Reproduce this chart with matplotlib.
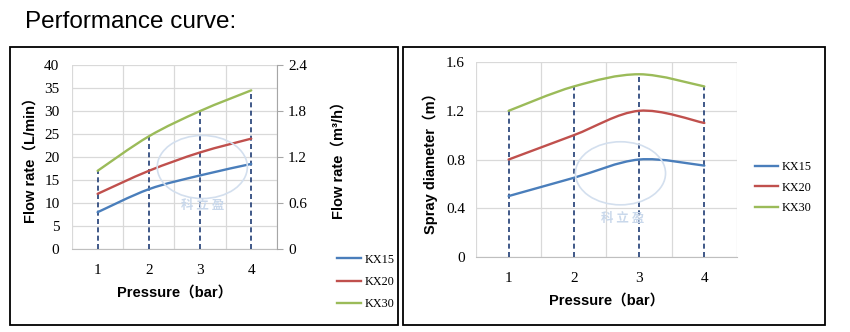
import numpy as np
import matplotlib
matplotlib.use('Agg')
import matplotlib.pyplot as plt
from matplotlib.path import Path
from matplotlib.patches import PathPatch, Rectangle, Ellipse

# data
pressure = [1, 2, 3, 4]
series = ['KX15', 'KX20', 'KX30']
flow_lmin = {
    'KX15': [8, 13, 16, 18.5],
    'KX20': [12, 17, 21, 24],
    'KX30': [17, 24.5, 30, 34.5],
}
spray_m = {
    'KX15': [0.5, 0.65, 0.8, 0.75],
    'KX20': [0.8, 1.0, 1.2, 1.1],
    'KX30': [1.2, 1.4, 1.5, 1.4],
}
flow_ticks = [0, 5, 10, 15, 20, 25, 30, 35, 40]
flow_m3h_ticks = [0, 0.6, 1.2, 1.8, 2.4]
spray_ticks = [0, 0.4, 0.8, 1.2, 1.6]

colors = {'KX15': '#4a7ebb', 'KX20': '#c0504d', 'KX30': '#9bbb59'}
dash_color = '#1f3c74'
grid_color = '#d9d9d9'
serif = 'Liberation Serif'
sans = ['Liberation Sans', 'Noto Sans CJK SC']
tick_fs = 11


def smooth_line(ax, x, y, color):
    # Excel style smoothed line: Catmull-Rom segments drawn as cubic Beziers
    pts = np.column_stack([x, y]).astype(float)
    ext = np.vstack([pts[0], pts, pts[-1]])
    verts = [pts[0]]
    codes = [Path.MOVETO]
    for i in range(len(pts) - 1):
        p0, p1, p2, p3 = ext[i], ext[i + 1], ext[i + 2], ext[i + 3]
        verts += [p1 + (p2 - p0) / 6, p2 - (p3 - p1) / 6, p2]
        codes += [Path.CURVE4] * 3
    ax.add_patch(PathPatch(Path(verts, codes), fill=False, edgecolor=color,
                           lw=1.7, capstyle='round', zorder=4))
    # empty line used as legend handle
    return ax.plot([], [], color=color, lw=1.7)[0]


def style_axes(ax, ymax, yticks):
    ax.set_xlim(0.5, 4.5)
    ax.set_ylim(0, ymax)
    ax.set_xticks(pressure)
    ax.set_xticks([0.5, 1.5, 2.5, 3.5, 4.5], minor=True)
    ax.set_yticks(yticks)
    ax.grid(True, which='minor', axis='x', color=grid_color, lw=0.9)
    ax.grid(True, which='major', axis='y', color=grid_color, lw=0.9)
    ax.tick_params(which='both', length=0)
    ax.tick_params(axis='x', pad=11)
    for s in ['top', 'right', 'left']:
        ax.spines[s].set_visible(False)
    ax.spines['bottom'].set_color('#bfbfbf')
    ax.set_axisbelow(True)


def legend_kw(spacing):
    return dict(frameon=False, prop={'family': serif, 'size': 8.8}, handlelength=1.9,
                handletextpad=0.3, labelspacing=spacing, borderaxespad=0, borderpad=0)


fig = plt.figure(figsize=(8.5, 3.32), dpi=100)

fig.text(0.029, 0.935, 'Performance curve:', fontsize=17.5,
         family='Liberation Sans', va='center', ha='left')

# panel frames
fig.patches.append(Rectangle((0.0118, 0.021), 0.4565, 0.837, transform=fig.transFigure,
                             fill=False, edgecolor='black', lw=1.3))
fig.patches.append(Rectangle((0.4745, 0.021), 0.496, 0.837, transform=fig.transFigure,
                             fill=False, edgecolor='black', lw=1.3))

# watermarks
for cx, cy, tx, ty, w, h in [(0.238, 0.497, 0.238, 0.382, 0.106, 0.19),
                             (0.73, 0.478, 0.732, 0.343, 0.106, 0.19)]:
    fig.patches.append(Ellipse((cx, cy), w, h, transform=fig.transFigure,
                               fill=False, edgecolor='#d3dfee', lw=1.2, zorder=0))
    fig.text(tx, ty, '科 立 盈', color='#c9d8eb', fontsize=9, fontweight='bold',
             family='Noto Sans CJK SC', ha='center', va='center')

# ---- left chart: flow rate
ax1 = fig.add_axes([0.0847, 0.25, 0.241, 0.554])
ax1.patch.set_alpha(0)
style_axes(ax1, 40, flow_ticks)
ax1.set_xticklabels([str(p) for p in pressure], fontfamily=serif, fontsize=tick_fs)
ax1.set_yticklabels([str(t) for t in flow_ticks], fontfamily=serif, fontsize=tick_fs)
ax1.tick_params(axis='y', pad=9)
ax1.vlines(pressure, 0, flow_lmin['KX30'], colors=dash_color, linestyles=(0, (3, 2)),
           lw=1.2, zorder=3)
handles = [smooth_line(ax1, pressure, flow_lmin[s], colors[s]) for s in series]
ax1.set_xlabel('Pressure（bar）', fontsize=10.5, fontweight='bold', family=sans, labelpad=6)
ax1.set_ylabel('Flow rate（L/min）', fontsize=10.5, fontweight='bold', family=sans, labelpad=5)

ax1r = ax1.twinx()
ax1r.set_ylim(0, 2.4)
ax1r.set_yticks(flow_m3h_ticks)
ax1r.set_yticklabels(['0' if t == 0 else '%.1f' % t for t in flow_m3h_ticks],
                     fontfamily=serif, fontsize=tick_fs)
for s in ['top', 'left', 'bottom']:
    ax1r.spines[s].set_visible(False)
ax1r.spines['right'].set_color('#a6a6a6')
ax1r.tick_params(axis='y', length=4, color='#a6a6a6', pad=4)
ax1r.set_ylabel('Flow rate（m³/h）', fontsize=10.5, fontweight='bold', family=sans, labelpad=18)

fig.legend(handles, series, loc='upper left', bbox_to_anchor=(0.397, 0.236),
           **legend_kw(0.85))

# ---- right chart: spray diameter
ax2 = fig.add_axes([0.56, 0.226, 0.307, 0.587])
ax2.patch.set_alpha(0)
style_axes(ax2, 1.6, spray_ticks)
ax2.set_xticklabels([str(p) for p in pressure], fontfamily=serif, fontsize=tick_fs)
ax2.set_yticklabels(['0' if t == 0 else '%.1f' % t for t in spray_ticks],
                    fontfamily=serif, fontsize=tick_fs)
ax2.tick_params(axis='y', pad=8)
ax2.vlines(pressure, 0, spray_m['KX30'], colors=dash_color, linestyles=(0, (3, 2)),
           lw=1.2, zorder=3)
handles2 = [smooth_line(ax2, pressure, spray_m[s], colors[s]) for s in series]
ax2.set_xlabel('Pressure（bar）', fontsize=10.5, fontweight='bold', family=sans, labelpad=6)
ax2.set_ylabel('Spray diameter（m）', fontsize=10.5, fontweight='bold', family=sans, labelpad=6)
fig.legend(handles2, series, loc='center left', bbox_to_anchor=(0.888, 0.435),
           **legend_kw(0.7))

fig.savefig('out.png', dpi=100)
